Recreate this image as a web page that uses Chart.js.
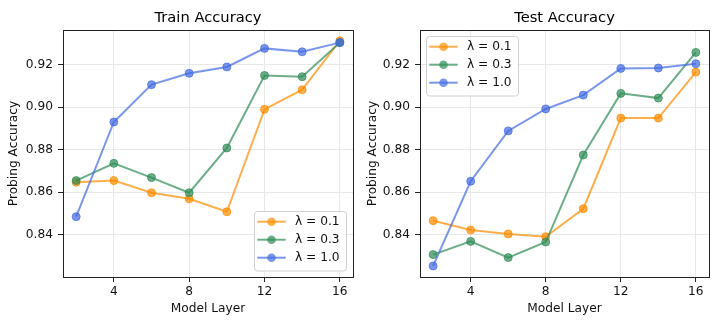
<!DOCTYPE html>
<html>
<head>
<meta charset="utf-8">
<script src="https://cdn.jsdelivr.net/npm/chart.js@4"></script>
<style>
  html, body { margin: 0; padding: 0; background: #fff; }
  #wrap { position: relative; width: 718px; height: 325px; }
  canvas { position: absolute; top: 0; }
  #trainChart { left: 0; }
  #testChart { left: 359px; }
</style>
</head>
<body>
<div id="wrap">
  <canvas id="trainChart" width="359" height="325"></canvas>
  <canvas id="testChart" width="359" height="325"></canvas>
</div>
<script>
const layers = [2, 4, 6, 8, 10, 12, 14, 16];
const lambdaLabels = ["λ = 0.1", "λ = 0.3", "λ = 1.0"];

const trainL01 = [0.8647, 0.8655, 0.8598, 0.8570, 0.8509, 0.8989, 0.9081, 0.9311];
const trainL03 = [0.8655, 0.8736, 0.8669, 0.8598, 0.8808, 0.9148, 0.9142, 0.9302];
const trainL10 = [0.8486, 0.8930, 0.9105, 0.9158, 0.9188, 0.9275, 0.9259, 0.9302];

const testL01 = [0.8467, 0.8423, 0.8405, 0.8392, 0.8523, 0.8948, 0.8948, 0.9164];
const testL03 = [0.8308, 0.8370, 0.8294, 0.8367, 0.8775, 0.9064, 0.9042, 0.9256];
const testL10 = [0.8255, 0.8652, 0.8888, 0.8991, 0.9056, 0.9181, 0.9183, 0.9203];

const xTicks = [4, 8, 12, 16];
const yTicks = [0.84, 0.86, 0.88, 0.90, 0.92];

const colors = ["rgba(255,140,0,0.7)", "rgba(46,139,87,0.7)", "rgba(65,105,225,0.7)"];
const FONT = "'DejaVu Sans', sans-serif";

// box around the plot area, like matplotlib spines
const framePlugin = {
    id: "frame",
    afterDatasetsDraw(chart) {
        const a = chart.chartArea;
        const ctx = chart.ctx;
        ctx.save();
        ctx.strokeStyle = "#222";
        ctx.lineWidth = 1;
        ctx.strokeRect(Math.round(a.left) + 0.5, Math.round(a.top) + 0.5,
            Math.round(a.right - a.left), Math.round(a.bottom - a.top));
        ctx.restore();
    }
};

// legend drawn inside the axes
const inLegendPlugin = {
    id: "inLegend",
    afterDraw(chart, args, opts) {
        const ctx = chart.ctx;
        const x = opts.x, y = opts.y;
        ctx.save();
        ctx.beginPath();
        ctx.roundRect(x + 0.5, y + 0.5, 92, 59.5, 3);
        ctx.fillStyle = "rgba(255,255,255,0.85)";
        ctx.fill();
        ctx.strokeStyle = "#d0d0d0";
        ctx.lineWidth = 1;
        ctx.stroke();
        chart.data.datasets.forEach((ds, i) => {
            const cy = y + 10.7 + i * 18;
            ctx.strokeStyle = ds.borderColor;
            ctx.lineWidth = 2;
            ctx.beginPath();
            ctx.moveTo(x + 3.3, cy);
            ctx.lineTo(x + 31.7, cy);
            ctx.stroke();
            ctx.beginPath();
            ctx.arc(x + 17.5, cy, 4.3, 0, Math.PI * 2);
            ctx.fillStyle = ds.backgroundColor;
            ctx.fill();
            ctx.fillStyle = "#111";
            ctx.font = "12.2px " + FONT;
            ctx.textBaseline = "middle";
            ctx.textAlign = "left";
            ctx.fillText(ds.label, x + 41, cy + 0.5);
        });
        ctx.restore();
    }
};

function makePanel(id, title, series, legendPos, yAxisWidth, rightPad) {
    const datasets = series.map((vals, i) => ({
        label: lambdaLabels[i],
        data: layers.map((l, j) => ({ x: l, y: vals[j] })),
        borderColor: colors[i],
        backgroundColor: colors[i],
        borderWidth: 2,
        pointRadius: 4,
        pointBorderWidth: 1,
        pointBorderColor: colors[i],
        pointBackgroundColor: colors[i],
        tension: 0,
        order: 3 - i
    }));

    new Chart(document.getElementById(id), {
        type: "line",
        data: { datasets: datasets },
        plugins: [framePlugin, inLegendPlugin],
        options: {
            responsive: false,
            animation: false,
            layout: { padding: { left: 0, right: rightPad, top: 0, bottom: 0 } },
            plugins: {
                legend: { display: false },
                tooltip: { enabled: false },
                title: {
                    display: true,
                    text: title,
                    fullSize: false,
                    color: "#000",
                    font: { family: FONT, size: 14.7, weight: "normal", lineHeight: 1.2 },
                    padding: { top: 9, bottom: 3.4 }
                },
                inLegend: legendPos
            },
            scales: {
                x: {
                    type: "linear",
                    min: 1.3,
                    max: 16.7,
                    afterBuildTicks: s => { s.ticks = xTicks.map(v => ({ value: v })); },
                    afterFit: s => { s.height = 48; },
                    border: { display: false },
                    grid: { color: "#e8e8e8", tickColor: "#222", tickLength: 5, lineWidth: 1 },
                    ticks: {
                        color: "#111",
                        font: { family: FONT, size: 12.2 },
                        padding: 3,
                        maxRotation: 0,
                        autoSkip: false,
                        callback: v => String(v)
                    },
                    title: {
                        display: true,
                        text: "Model Layer",
                        color: "#111",
                        font: { family: FONT, size: 12.2 },
                        padding: { top: 0, bottom: 8.5 }
                    }
                },
                y: {
                    type: "linear",
                    min: 0.8203,
                    max: 0.9361,
                    afterBuildTicks: s => { s.ticks = yTicks.map(v => ({ value: v })); },
                    afterFit: s => { s.width = yAxisWidth; },
                    border: { display: false },
                    grid: { color: "#e8e8e8", tickColor: "#222", tickLength: 5, lineWidth: 1 },
                    ticks: {
                        color: "#111",
                        font: { family: FONT, size: 12.2 },
                        padding: 5,
                        autoSkip: false,
                        callback: v => v.toFixed(2)
                    },
                    title: {
                        display: true,
                        text: "Probing Accuracy",
                        color: "#111",
                        font: { family: FONT, size: 12.2 },
                        padding: { top: 6.5, bottom: 0 }
                    }
                }
            }
        }
    });
}

makePanel("trainChart", "Train Accuracy", [trainL01, trainL03, trainL10], { x: 254, y: 211 }, 63, 6);
makePanel("testChart", "Test Accuracy", [testL01, testL03, testL10], { x: 67, y: 36 }, 61, 9);
</script>
</body>
</html>
